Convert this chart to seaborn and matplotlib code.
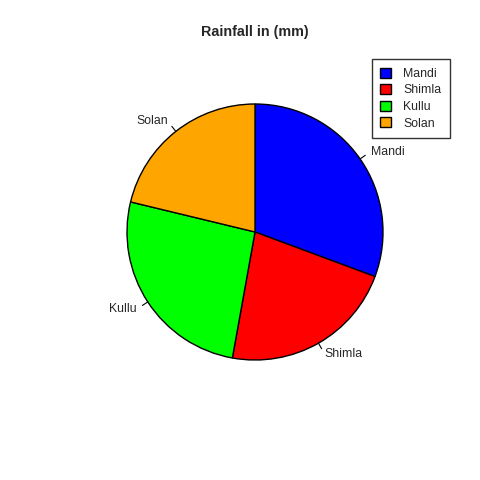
import numpy as np
import matplotlib
matplotlib.use("Agg")
import matplotlib.pyplot as plt
import seaborn as sns

cities = ["Mandi", "Shimla", "Kullu", "Solan"]
rainfall = [65, 47, 55, 45]
colors = ["#0000FF", "#FF0000", "#00FF00", "#FFA500"]
title = "Rainfall in (mm)"

sns.set_style("white")
plt.rcParams["font.family"] = ["Liberation Sans", "DejaVu Sans"]

fig = plt.figure(figsize=(4.8, 4.8), dpi=100)
ax = fig.add_axes([0, 0, 1, 1])

cx, cy, r = 255, 248, 128
wedges, _ = ax.pie(rainfall, colors=colors, startangle=90, counterclock=False,
                   center=(cx, cy), radius=r, labels=None, frame=True,
                   wedgeprops=dict(edgecolor="black", linewidth=1))
ax.set_xlim(0, 480)
ax.set_ylim(0, 480)
ax.set_aspect("equal")
ax.axis("off")

for w, lab in zip(wedges, cities):
    mid = np.deg2rad((w.theta1 + w.theta2) / 2)
    c, s = np.cos(mid), np.sin(mid)
    ax.plot([cx + r * c, cx + 1.05 * r * c], [cy + r * s, cy + 1.05 * r * s],
            color="black", lw=0.8)
    ax.text(cx + 1.1 * r * c, cy + 1.1 * r * s, lab,
            ha="left" if c > 0 else "right", va="center", fontsize=8.8)

fig.text(255 / 480, 1 - 32 / 480, title, ha="center", va="center",
         fontsize=10.3, fontweight="bold")

leg = ax.legend(wedges, cities, loc="upper right",
                bbox_to_anchor=(450 / 480, 1 - 59 / 480),
                bbox_transform=fig.transFigure,
                fontsize=8.8, frameon=True, fancybox=False,
                edgecolor="black", handlelength=0.9, handleheight=0.9,
                handletextpad=1.0, labelspacing=0.35, borderpad=0.7,
                borderaxespad=0)
leg.get_frame().set_linewidth(1)

fig.savefig("out.png", dpi=100, facecolor="white")
